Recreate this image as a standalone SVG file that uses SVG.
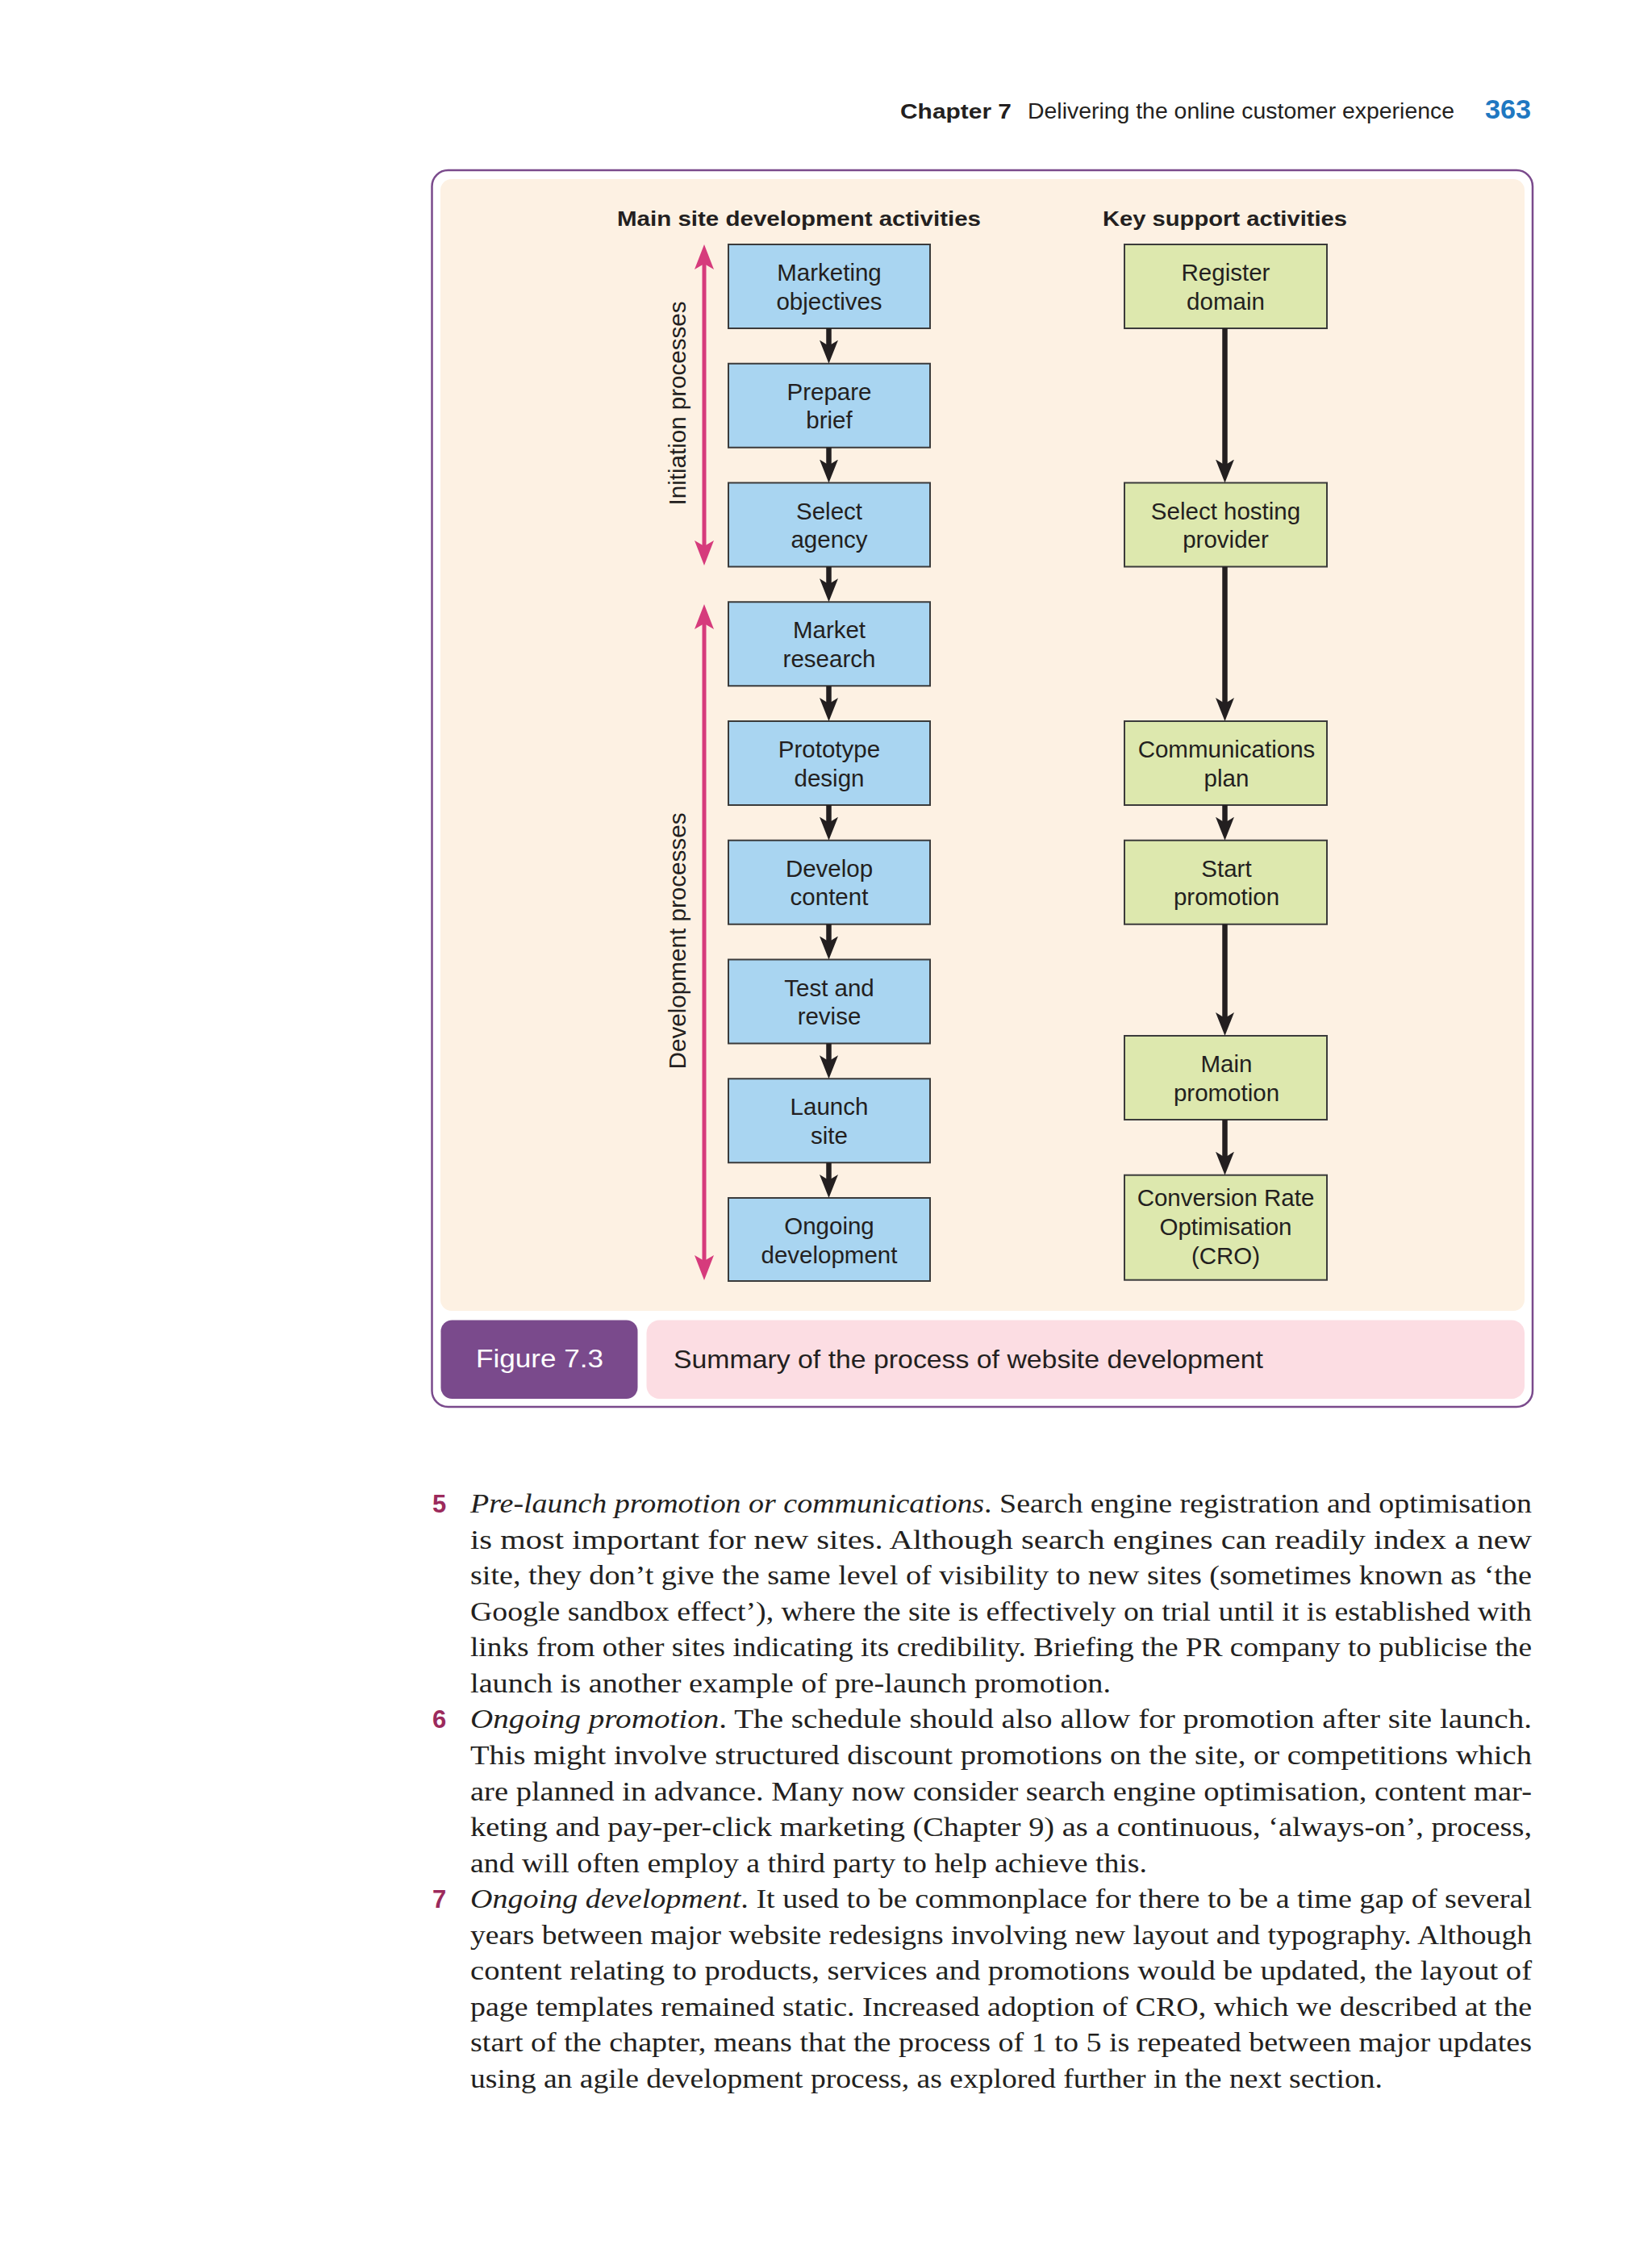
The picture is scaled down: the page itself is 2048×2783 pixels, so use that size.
<svg xmlns="http://www.w3.org/2000/svg" width="2048" height="2783" viewBox="0 0 2048 2783">
<defs>
<style>
.bb{fill:#a9d5f1;stroke:#3b3b3b;stroke-width:2}
.bg{fill:#dde8ae;stroke:#3b3b3b;stroke-width:2}
.nt{font-family:"Liberation Sans",Arial,sans-serif;font-size:29.5px;fill:#231f20;text-anchor:middle}
.hd{font-family:"Liberation Sans",Arial,sans-serif;font-size:26px;font-weight:bold;fill:#231f20}
.rl{font-family:"Liberation Sans",Arial,sans-serif;font-size:30px;fill:#231f20;text-anchor:middle}
.conn{stroke:#231f20;stroke-width:6.5;fill:none;marker-end:url(#ah)}
.pink{stroke:#d63b7c;stroke-width:5;fill:none;marker-start:url(#ph);marker-end:url(#ph)}
.body{font-family:"Liberation Serif","Times New Roman",serif;font-size:34px;fill:#231f20}
.num{font-family:"Liberation Sans",Arial,sans-serif;font-weight:bold;font-size:31px;fill:#9c2a5c}
.it{font-style:italic}
</style>
<marker id="ah" viewBox="0 -12 30 24" refX="15" refY="0" markerWidth="30" markerHeight="24" markerUnits="userSpaceOnUse" orient="auto">
<path d="M0,-11.5 L29,0 L0,11.5 L7,0 Z" fill="#231f20"/>
</marker>
<marker id="ph" viewBox="0 -13 32 26" refX="17" refY="0" markerWidth="32" markerHeight="26" markerUnits="userSpaceOnUse" orient="auto-start-reverse">
<path d="M0,-12 L31,0 L0,12 L7,0 Z" fill="#d63b7c"/>
</marker>
</defs>
<rect width="2048" height="2783" fill="#ffffff"/>

<g id="page-header">
<text x="1116" y="147" font-family="Liberation Sans, Arial, sans-serif" font-size="26" font-weight="bold" fill="#231f20" textLength="138" lengthAdjust="spacingAndGlyphs">Chapter 7</text>
<text x="1274" y="147" font-family="Liberation Sans, Arial, sans-serif" font-size="27" fill="#231f20" textLength="529" lengthAdjust="spacingAndGlyphs">Delivering the online customer experience</text>
<text x="1841" y="147" font-family="Liberation Sans, Arial, sans-serif" font-size="34" font-weight="bold" fill="#1f78c1" textLength="57" lengthAdjust="spacingAndGlyphs">363</text>
</g>

<g id="figure-frame">
<rect x="535.5" y="211" width="1364.5" height="1533" rx="20" fill="#ffffff" stroke="#7a4a8c" stroke-width="2.5"/>
<rect x="546" y="222" width="1344" height="1403" rx="14" fill="#fdf1e3"/>
</g>

<g id="headings">
<text class="hd" x="765" y="280" textLength="451" lengthAdjust="spacingAndGlyphs">Main site development activities</text>
<text class="hd" x="1367" y="280" textLength="303" lengthAdjust="spacingAndGlyphs">Key support activities</text>
<text class="rl" transform="translate(850,500) rotate(-90)" textLength="253" lengthAdjust="spacingAndGlyphs">Initiation processes</text>
<text class="rl" transform="translate(850,1166.5) rotate(-90)" textLength="318" lengthAdjust="spacingAndGlyphs">Development processes</text>
</g>

<g id="node-marketing-objectives"><rect class="bb" x="903" y="303" width="250" height="104"/><text class="nt" x="1028" y="348">Marketing</text><text class="nt" x="1028" y="383.5">objectives</text></g>
<g id="node-prepare-brief"><rect class="bb" x="903" y="450.75" width="250" height="104"/><text class="nt" x="1028" y="495.75">Prepare</text><text class="nt" x="1028" y="531.25">brief</text></g>
<g id="node-select-agency"><rect class="bb" x="903" y="598.5" width="250" height="104"/><text class="nt" x="1028" y="643.5">Select</text><text class="nt" x="1028" y="679">agency</text></g>
<g id="node-market-research"><rect class="bb" x="903" y="746.25" width="250" height="104"/><text class="nt" x="1028" y="791.25">Market</text><text class="nt" x="1028" y="826.75">research</text></g>
<g id="node-prototype-design"><rect class="bb" x="903" y="894" width="250" height="104"/><text class="nt" x="1028" y="939">Prototype</text><text class="nt" x="1028" y="974.5">design</text></g>
<g id="node-develop-content"><rect class="bb" x="903" y="1041.75" width="250" height="104"/><text class="nt" x="1028" y="1086.75">Develop</text><text class="nt" x="1028" y="1122.25">content</text></g>
<g id="node-test-and-revise"><rect class="bb" x="903" y="1189.5" width="250" height="104"/><text class="nt" x="1028" y="1234.5">Test and</text><text class="nt" x="1028" y="1270">revise</text></g>
<g id="node-launch-site"><rect class="bb" x="903" y="1337.25" width="250" height="104"/><text class="nt" x="1028" y="1382.25">Launch</text><text class="nt" x="1028" y="1417.75">site</text></g>
<g id="node-ongoing-development"><rect class="bb" x="903" y="1485" width="250" height="103"/><text class="nt" x="1028" y="1530">Ongoing</text><text class="nt" x="1028" y="1565.5">development</text></g>

<g id="node-register-domain"><rect class="bg" x="1394" y="303" width="251" height="104"/><text class="nt" x="1519.5" y="348">Register</text><text class="nt" x="1519.5" y="383.5">domain</text></g>
<g id="node-select-hosting"><rect class="bg" x="1394" y="598.5" width="251" height="104"/><text class="nt" x="1519.5" y="643.5">Select hosting</text><text class="nt" x="1519.5" y="679">provider</text></g>
<g id="node-communications-plan"><rect class="bg" x="1394" y="894" width="251" height="104"/><text class="nt" x="1520.5" y="939">Communications</text><text class="nt" x="1520.5" y="974.5">plan</text></g>
<g id="node-start-promotion"><rect class="bg" x="1394" y="1041.75" width="251" height="104"/><text class="nt" x="1520.5" y="1086.75">Start</text><text class="nt" x="1520.5" y="1122.25">promotion</text></g>
<g id="node-main-promotion"><rect class="bg" x="1394" y="1284" width="251" height="104"/><text class="nt" x="1520.5" y="1329">Main</text><text class="nt" x="1520.5" y="1364.5">promotion</text></g>
<g id="node-cro"><rect class="bg" x="1394" y="1456.7" width="251" height="130"/><text class="nt" x="1519.5" y="1495">Conversion Rate</text><text class="nt" x="1519.5" y="1531">Optimisation</text><text class="nt" x="1519.5" y="1567">(CRO)</text></g>

<g id="connectors">
<line class="conn" x1="1027.5" y1="407" x2="1027.5" y2="436.75"/>
<line class="conn" x1="1027.5" y1="554.75" x2="1027.5" y2="584.5"/>
<line class="conn" x1="1027.5" y1="702.5" x2="1027.5" y2="732.25"/>
<line class="conn" x1="1027.5" y1="850.25" x2="1027.5" y2="880"/>
<line class="conn" x1="1027.5" y1="998" x2="1027.5" y2="1027.75"/>
<line class="conn" x1="1027.5" y1="1145.75" x2="1027.5" y2="1175.5"/>
<line class="conn" x1="1027.5" y1="1293.5" x2="1027.5" y2="1323.25"/>
<line class="conn" x1="1027.5" y1="1441.25" x2="1027.5" y2="1471"/>
<line class="conn" x1="1518.5" y1="407" x2="1518.5" y2="584.5"/>
<line class="conn" x1="1518.5" y1="702.5" x2="1518.5" y2="880"/>
<line class="conn" x1="1518.5" y1="998" x2="1518.5" y2="1027.75"/>
<line class="conn" x1="1518.5" y1="1145.75" x2="1518.5" y2="1270"/>
<line class="conn" x1="1518.5" y1="1388" x2="1518.5" y2="1442.7"/>
<line class="pink" x1="873" y1="317" x2="873" y2="687"/>
<line class="pink" x1="873" y1="763" x2="873" y2="1573"/>
</g>

<g id="figure-caption">
<rect x="546.5" y="1636.5" width="244" height="97.5" rx="14" fill="#7a4a8c"/>
<text x="590" y="1695" font-family="Liberation Sans, Arial, sans-serif" font-size="31" fill="#ffffff" textLength="158" lengthAdjust="spacingAndGlyphs">Figure 7.3</text>
<rect x="801.5" y="1636.5" width="1088.5" height="97.5" rx="16" fill="#fcdde3"/>
<text x="835" y="1696" font-family="Liberation Sans, Arial, sans-serif" font-size="32" fill="#231f20" textLength="731" lengthAdjust="spacingAndGlyphs">Summary of the process of website development</text>
</g>

<g id="body-text">
<text class="num" x="536" y="1875">5</text>
<text class="body" x="583" y="1875" textLength="1316" lengthAdjust="spacingAndGlyphs"><tspan class="it">Pre-launch promotion or communications</tspan>. Search engine registration and optimisation</text>
<text class="body" x="583" y="1919.6" textLength="1316" lengthAdjust="spacingAndGlyphs">is most important for new sites. Although search engines can readily index a new</text>
<text class="body" x="583" y="1964.1" textLength="1316" lengthAdjust="spacingAndGlyphs">site, they don’t give the same level of visibility to new sites (sometimes known as ‘the</text>
<text class="body" x="583" y="2008.7" textLength="1316" lengthAdjust="spacingAndGlyphs">Google sandbox effect’), where the site is effectively on trial until it is established with</text>
<text class="body" x="583" y="2053.2" textLength="1316" lengthAdjust="spacingAndGlyphs">links from other sites indicating its credibility. Briefing the PR company to publicise the</text>
<text class="body" x="583" y="2097.8" textLength="794" lengthAdjust="spacingAndGlyphs">launch is another example of pre-launch promotion.</text>
<text class="num" x="536" y="2142.4">6</text>
<text class="body" x="583" y="2142.4" textLength="1316" lengthAdjust="spacingAndGlyphs"><tspan class="it">Ongoing promotion</tspan>. The schedule should also allow for promotion after site launch.</text>
<text class="body" x="583" y="2186.9" textLength="1316" lengthAdjust="spacingAndGlyphs">This might involve structured discount promotions on the site, or competitions which</text>
<text class="body" x="583" y="2231.5" textLength="1316" lengthAdjust="spacingAndGlyphs">are planned in advance. Many now consider search engine optimisation, content mar-</text>
<text class="body" x="583" y="2276" textLength="1316" lengthAdjust="spacingAndGlyphs">keting and pay-per-click marketing (Chapter 9) as a continuous, ‘always-on’, process,</text>
<text class="body" x="583" y="2320.6" textLength="839" lengthAdjust="spacingAndGlyphs">and will often employ a third party to help achieve this.</text>
<text class="num" x="536" y="2365.2">7</text>
<text class="body" x="583" y="2365.2" textLength="1316" lengthAdjust="spacingAndGlyphs"><tspan class="it">Ongoing development</tspan>. It used to be commonplace for there to be a time gap of several</text>
<text class="body" x="583" y="2409.7" textLength="1316" lengthAdjust="spacingAndGlyphs">years between major website redesigns involving new layout and typography. Although</text>
<text class="body" x="583" y="2454.3" textLength="1316" lengthAdjust="spacingAndGlyphs">content relating to products, services and promotions would be updated, the layout of</text>
<text class="body" x="583" y="2498.8" textLength="1316" lengthAdjust="spacingAndGlyphs">page templates remained static. Increased adoption of CRO, which we described at the</text>
<text class="body" x="583" y="2543.4" textLength="1316" lengthAdjust="spacingAndGlyphs">start of the chapter, means that the process of 1 to 5 is repeated between major updates</text>
<text class="body" x="583" y="2588" textLength="1131" lengthAdjust="spacingAndGlyphs">using an agile development process, as explored further in the next section.</text>
</g>
</svg>
